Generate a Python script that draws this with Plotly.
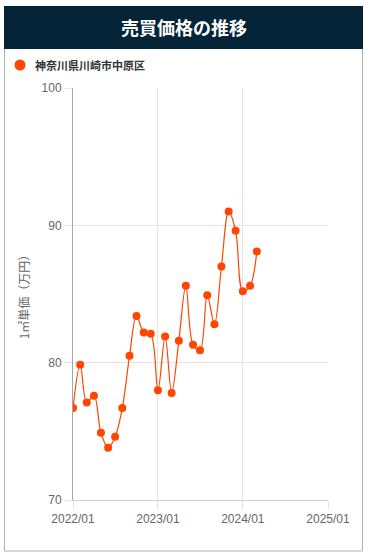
import plotly.graph_objects as go

months = ["2022-01-01", "2022-02-01", "2022-03-01", "2022-04-01", "2022-05-01", "2022-06-01",
          "2022-07-01", "2022-08-01", "2022-09-01", "2022-10-01", "2022-11-01", "2022-12-01",
          "2023-01-01", "2023-02-01", "2023-03-01", "2023-04-01", "2023-05-01", "2023-06-01",
          "2023-07-01", "2023-08-01", "2023-09-01", "2023-10-01", "2023-11-01", "2023-12-01",
          "2024-01-01", "2024-02-01", "2024-03-01"]
prices = [76.7, 79.85, 77.1, 77.6, 74.9, 73.8, 74.6, 76.7, 80.5, 83.4, 82.2, 82.1,
          78.0, 81.9, 77.8, 81.6, 85.6, 81.3, 80.9, 84.9, 82.8, 87.0, 91.0, 89.6,
          85.2, 85.6, 88.1]
series_name = "神奈川県川崎市中原区"
title_text = "売買価格の推移"
y_title = "1㎡単価（万円）"
x_ticks = ["2022-01-01", "2023-01-01", "2024-01-01", "2025-01-01"]
x_ticklabels = ["2022/01", "2023/01", "2024/01", "2025/01"]
y_ticks = [70, 80, 90, 100]

W, H = 369, 558
L, R, T, B = 73, 328, 88, 500
PW, PH = R - L, B - T

def px(x):
    return (x - L) / PW

def py(y):
    return (B - y) / PH

COLOR = "#FF4500"
FONT = "Liberation Sans, Arial, Noto Sans CJK JP, sans-serif"
CJK = "Noto Sans CJK JP, sans-serif"

fig = go.Figure()
fig.add_trace(go.Scatter(
    x=months, y=prices, mode="lines+markers", name=series_name,
    line=dict(color=COLOR, width=1.2, shape="spline", smoothing=1.0),
    marker=dict(color=COLOR, size=8),
    showlegend=False,
))

shapes = [
    # card border
    dict(type="rect", xref="paper", yref="paper", x0=px(4.5), x1=px(362.5), y0=py(551), y1=py(48),
         line=dict(color="#b0b0b0", width=1), fillcolor="rgba(0,0,0,0)", layer="below"),
    # header band
    dict(type="rect", xref="paper", yref="paper", x0=px(4), x1=px(363), y0=py(49), y1=py(6),
         line=dict(width=0), fillcolor="#062438", layer="below"),
    # legend dot
    dict(type="circle", xref="paper", yref="paper", x0=px(14.5), x1=px(25.5), y0=py(70.5), y1=py(59.5),
         line=dict(width=0), fillcolor=COLOR),
]

annotations = [
    dict(text="<b>" + title_text + "</b>", xref="paper", yref="paper", x=px(183.5), y=py(27.5),
         xanchor="center", yanchor="middle", showarrow=False,
         font=dict(family=CJK, size=18, color="white")),
    dict(text="<b>" + series_name + "</b>", xref="paper", yref="paper", x=px(33), y=py(65),
         xanchor="left", yanchor="middle", showarrow=False,
         font=dict(family=CJK, size=11, color="#333333")),
]

fig.update_layout(
    width=W, height=H,
    margin=dict(l=L, r=W - R, t=T, b=H - B, pad=0),
    paper_bgcolor="white", plot_bgcolor="white",
    shapes=shapes, annotations=annotations,
    xaxis=dict(
        type="date", range=["2022-01-01", "2025-01-01"],
        tickvals=x_ticks, ticktext=x_ticklabels,
        showgrid=True, gridcolor="#e4e4e4", gridwidth=1,
        ticks="outside", ticklen=8, tickcolor="#e4e4e4",
        showline=True, linecolor="#d0d0d0", linewidth=1,
        tickfont=dict(family=FONT, size=12, color="#666666"),
        zeroline=False, fixedrange=True,
    ),
    yaxis=dict(
        range=[70, 100], tickvals=y_ticks,
        showgrid=True, gridcolor="#e4e4e4", gridwidth=1,
        ticks="outside", ticklen=8, tickcolor="#e4e4e4",
        showline=True, linecolor="#a8a8a8", linewidth=1,
        tickfont=dict(family=FONT, size=12, color="#666666"),
        title=dict(text=y_title, font=dict(family=CJK, size=12, color="#666666"), standoff=9),
        zeroline=False, fixedrange=True,
    ),
)

fig.write_html("out.html", config={"displayModeBar": False, "staticPlot": True},
               post_script="document.body.style.margin='0';document.body.style.padding='0';")
